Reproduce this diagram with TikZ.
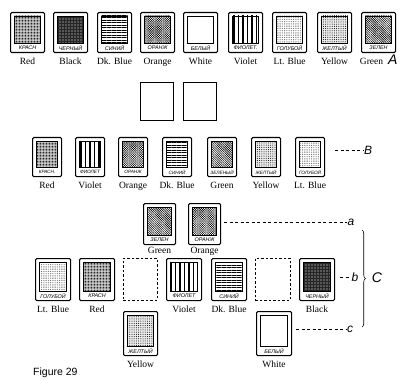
\documentclass[tikz,border=0pt]{standalone}
\usepackage{fontspec}
\setmainfont{Liberation Serif}
\setsansfont{Liberation Sans}
\newfontfamily\rusfont{Liberation Sans}
\usetikzlibrary{patterns.meta,decorations.pathreplacing,positioning}

% one colour card: name, left x, top y, width, height, texture, russian word, english word
\newcommand{\colcard}[8]{%
  \node[card, minimum width=#4pt, minimum height=#5pt] (#1) at (#2,#3) {};
  \path[#6] ([xshift=4.5pt,yshift=-4pt]#1.north west) rectangle ([xshift=-4.5pt,yshift=10pt]#1.south east);
  \draw[line width=0.4pt] ([xshift=4.5pt,yshift=-4pt]#1.north west) rectangle ([xshift=-4.5pt,yshift=10pt]#1.south east);
  \node[rus] at ([yshift=5pt]#1.south) {#7};
  \node[eng, below=5pt of #1, engshift] (#1-l) {#8};
}

\begin{document}
\begin{tikzpicture}[x=1pt, y=-1pt,
    card/.style={draw, line width=1.1pt, rounded corners=1.2pt, inner sep=0pt, anchor=north west},
    blank/.style={draw, line width=0.6pt, inner sep=0pt, anchor=north west},
    gapcard/.style={blank, dash pattern=on 2.5pt off 2pt},
    eng/.style={font=\fontsize{9.5}{10}\selectfont, inner sep=0pt},
    engshift/.style={},
    rus/.style={font=\rusfont\itshape\fontsize{5.4}{6}\selectfont, inner sep=0pt},
    tag/.style={font=\sffamily\itshape\fontsize{12}{12}\selectfont, inner sep=0.5pt},
    bigtag/.style={font=\sffamily\itshape\fontsize{14}{14}\selectfont, inner sep=0.5pt},
    guide/.style={line width=0.5pt, dash pattern=on 3pt off 2.5pt},
    pRed/.style={preaction={fill=black!12}, pattern={Dots[distance=1.5pt,radius=0.5pt]}},
    pBlack/.style={preaction={fill=black!85}, pattern={Dots[distance=3pt,radius=0.7pt]}, pattern color=white},
    pDkBlue/.style={pattern={Lines[angle=0,distance=2.5pt,line width=0.8pt]}},
    pOrange/.style={pattern={Hatch[angle=45,distance=1.6pt,line width=0.25pt]}},
    pWhite/.style={},
    pViolet/.style={pattern={Lines[angle=90,distance=4.5pt,line width=1.3pt]}},
    pLtBlue/.style={pattern={Dots[distance=1.8pt,radius=0.35pt]}},
    pYellow/.style={preaction={fill=black!8}, pattern={Dots[distance=2.2pt,radius=0.5pt]}},
    pGreen/.style={pattern={Lines[angle=-45,distance=1.6pt,line width=0.6pt]}}]
  \useasboundingbox (0,0) rectangle (404,385);

  % A: the full set
  \foreach \n/\x/\p/\r/\e in {1/10/pRed/КРАСН/Red, 2/53/pBlack/ЧЕРНЫЙ/Black,
      3/97/pDkBlue/СИНИЙ/Dk. Blue, 4/140/pOrange/ОРАНЖ/Orange, 5/183/pWhite/БЕЛЫЙ/White,
      6/228/pViolet/ФИОЛЕТ./Violet, 7/272/pLtBlue/ГОЛУБОЙ/Lt. Blue,
      8/317/pYellow/ЖЕЛТЫЙ/Yellow}
    \colcard{ra\n}{\x}{12}{34}{40}{\p}{\r}{\e};
  \begin{scope}[engshift/.style={xshift=-7pt}]
    \colcard{ra9}{361}{12}{34}{40}{pGreen}{ЗЕЛЕН}{Green}
  \end{scope}
  \node[bigtag, anchor=base west] (lA) at ([xshift=4pt]ra9-l.base east) {A};

  % two empty cards
  \node[blank, minimum width=33pt, minimum height=38pt] (e1) at (140,82) {};
  \node[blank, minimum width=33pt, minimum height=38pt] (e2) at (183,82) {};

  % B: the chosen order
  \begin{scope}[rus/.style={font=\rusfont\itshape\fontsize{4.7}{5}\selectfont, inner sep=0pt}]
  \foreach \n/\x/\p/\r/\e in {1/32/pRed/КРАСН./Red, 2/75/pViolet/ФИОЛЕТ/Violet,
      3/118/pOrange/ОРАНЖ/Orange, 4/162/pDkBlue/СИНИЙ/Dk. Blue, 5/207/pGreen/ЗЕЛЕНЫЙ/Green,
      6/251/pYellow/ЖЕЛТЫЙ/Yellow, 7/295/pLtBlue/ГОЛУБОЙ/Lt. Blue}
    \colcard{rb\n}{\x}{137}{29}{39}{\p}{\r}{\e};
  \end{scope}
  \node[tag] (lB) at (368,150) {B};
  \draw[guide] ([xshift=10pt]rb7.east |- lB.west) -- (lB.west);

  % C: three levels
  \begin{scope}[engshift/.style={yshift=3.5pt}]
    \colcard{ca1}{143}{203}{32}{41}{pGreen}{ЗЕЛЕН}{Green}
    \colcard{ca2}{188}{203}{32}{41}{pOrange}{ОРАНЖ}{Orange}
  \end{scope}
  \foreach \n/\x/\p/\r/\e in {1/35/pLtBlue/ГОЛУБОЙ/Lt. Blue, 2/79/pRed/КРАСН/Red,
      4/166/pViolet/ФИОЛЕТ/Violet, 5/211/pDkBlue/СИНИЙ/Dk. Blue, 7/299/pBlack/ЧЕРНЫЙ/Black}
    \colcard{cb\n}{\x}{258}{35}{42}{\p}{\r}{\e};
  \node[gapcard, minimum width=34pt, minimum height=42pt] (gb1) at (123,258) {};
  \node[gapcard, minimum width=35pt, minimum height=42pt] (gb2) at (255,258) {};
  \colcard{cc1}{123}{311}{34}{44}{pYellow}{ЖЕЛТЫЙ}{Yellow}
  \colcard{cc2}{256}{311}{35}{44}{pWhite}{БЕЛЫЙ}{White}

  \node[tag] (la) at (351,222) {a};
  \node[tag] (lb) at (355,277) {b};
  \node[tag] (lc) at (350,329) {c};
  \draw[guide] ([xshift=3pt]ca2.east |- la.west) -- (la.west);
  \draw[guide] ([xshift=5pt]cb7.east |- lb.west) -- (lb.west);
  \draw[guide] ([xshift=4pt]cc2.east |- lc.west) -- (lc.west);
  \coordinate (brtop) at (362,230);
  \coordinate (brbot) at (362,327);
  \draw[line width=0.6pt, decorate, decoration={brace, amplitude=3.5pt}] (brtop) -- (brbot);
  \node[bigtag] (lC) at (377,278) {C};

  \node[font=\sffamily\fontsize{10.5}{11}\selectfont, anchor=west, inner sep=0pt] (fig) at (33,373) {Figure 29};
\end{tikzpicture}
\end{document}
